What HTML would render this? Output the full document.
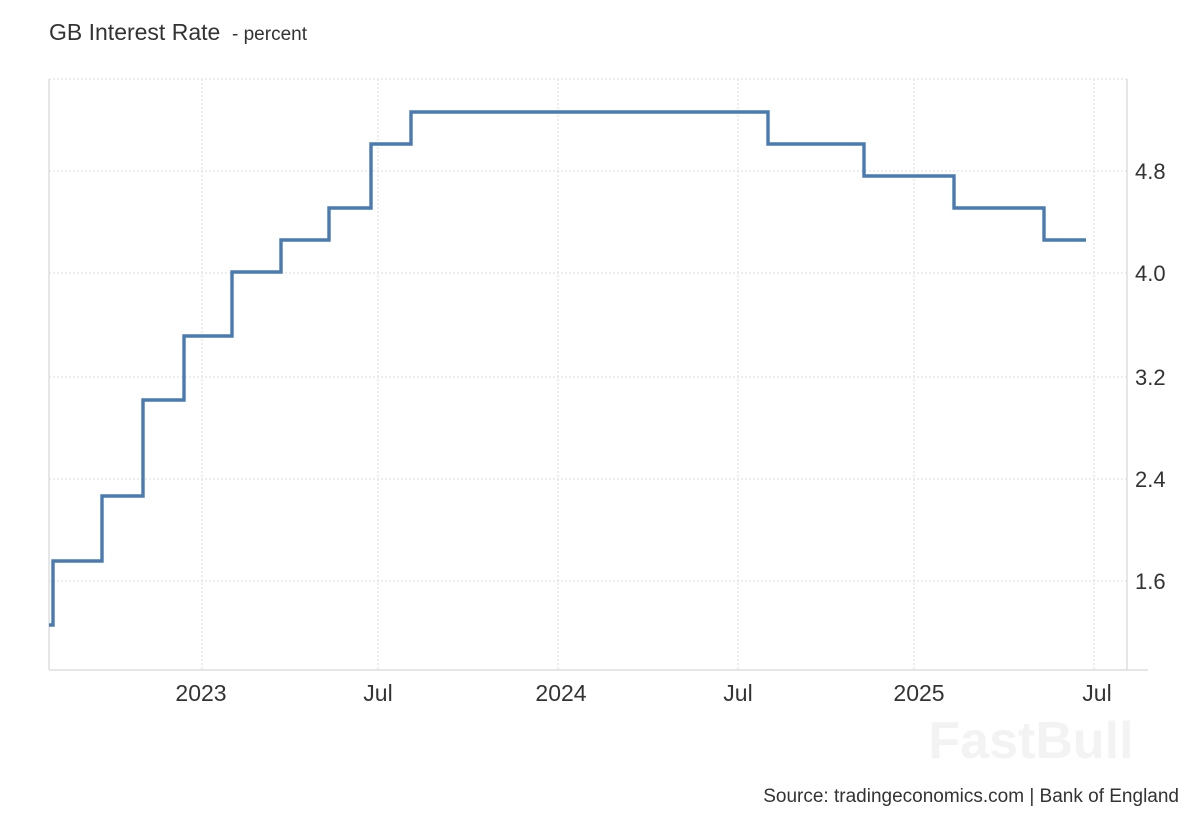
<!DOCTYPE html>
<html><head><meta charset="utf-8"><style>
html,body{margin:0;padding:0;background:#fff;width:1200px;height:820px;overflow:hidden}
svg{display:block;font-family:"Liberation Sans",Arial,sans-serif}
</style></head><body>
<svg width="1200" height="820" viewBox="0 0 1200 820">
<text x="49" y="40" font-size="23" fill="#333">GB Interest Rate</text>
<text x="232" y="40" font-size="19" fill="#333">- percent</text>
<g stroke="#ddd" stroke-width="1" stroke-dasharray="2,2" fill="none">
<line x1="49" y1="79" x2="1127" y2="79"/>
<line x1="49" y1="171" x2="1127" y2="171"/>
<line x1="49" y1="273" x2="1127" y2="273"/>
<line x1="49" y1="377" x2="1127" y2="377"/>
<line x1="49" y1="479" x2="1127" y2="479"/>
<line x1="49" y1="581" x2="1127" y2="581"/>
<line x1="202" y1="79" x2="202" y2="670"/>
<line x1="378" y1="79" x2="378" y2="670"/>
<line x1="558" y1="79" x2="558" y2="670"/>
<line x1="738" y1="79" x2="738" y2="670"/>
<line x1="914" y1="79" x2="914" y2="670"/>
<line x1="1094" y1="79" x2="1094" y2="670"/>
</g>
<g stroke="#ddd" stroke-width="1.5">
<line x1="49" y1="79" x2="49" y2="670"/>
<line x1="1127" y1="79" x2="1127" y2="670"/>
<line x1="49" y1="670" x2="1148" y2="670"/>
</g>
<polyline fill="none" stroke="#4a7bb0" stroke-width="3.4" points="49,625 53,625 53,561 102,561 102,496 143,496 143,400 184,400 184,336 232,336 232,272 281,272 281,240 329,240 329,208 371,208 371,144 411,144 411,112 768,112 768,144 864,144 864,176 954,176 954,208 1044,208 1044,240 1086,240"/>
<g font-size="22" fill="#333">
<text x="1135" y="179">4.8</text>
<text x="1135" y="281">4.0</text>
<text x="1135" y="385">3.2</text>
<text x="1135" y="487">2.4</text>
<text x="1135" y="589">1.6</text>
</g>
<g font-size="23" fill="#333" text-anchor="middle">
<text x="201" y="701">2023</text>
<text x="378" y="701">Jul</text>
<text x="561" y="701">2024</text>
<text x="738" y="701">Jul</text>
<text x="919" y="701">2025</text>
<text x="1097" y="701">Jul</text>
</g>
<text x="1031" y="758" font-size="52" font-weight="bold" fill="#f3f3f3" text-anchor="middle">FastBull</text>
<text x="1179" y="802" font-size="19" fill="#333" text-anchor="end">Source: tradingeconomics.com | Bank of England</text>
</svg>
</body></html>
